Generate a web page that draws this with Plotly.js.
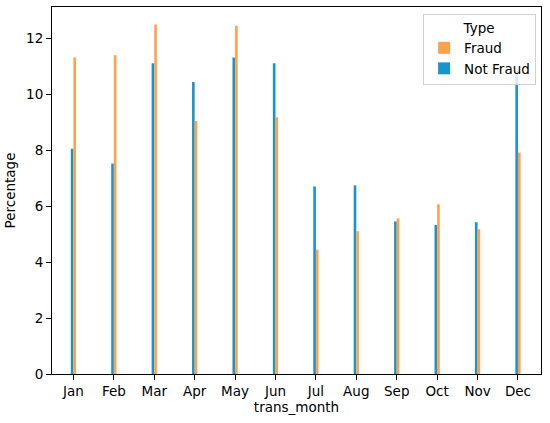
<!DOCTYPE html>
<html>
<head>
<meta charset="utf-8">
<script src="https://cdn.plot.ly/plotly-3.0.1.min.js"></script>
<style>html,body{margin:0;padding:0;background:#fff;}#chart{width:550px;height:423px;}</style>
</head>
<body>
<div id="chart"></div>
<script>
const months = ["Jan","Feb","Mar","Apr","May","Jun","Jul","Aug","Sep","Oct","Nov","Dec"];
const fraudPct = [11.32, 11.40, 12.50, 9.05, 12.46, 9.19, 4.45, 5.11, 5.57, 6.07, 5.18, 7.92];
const notFraudPct = [8.06, 7.53, 11.12, 10.45, 11.32, 11.12, 6.71, 6.75, 5.46, 5.33, 5.43, 10.83];

const font = {family: "DejaVu Sans, sans-serif", size: 13.5, color: "#000"};

const traces = [
  {type: "bar", name: "Not Fraud", x: months, y: notFraudPct,
   marker: {color: "#1a95cc", line: {width: 0}}, legendrank: 2},
  {type: "bar", name: "Fraud", x: months, y: fraudPct,
   marker: {color: "#ffa04d", line: {width: 0}}, legendrank: 1}
];

const layout = {
  width: 550, height: 423,
  margin: {l: 52, r: 9, t: 7, b: 49},
  paper_bgcolor: "#fff", plot_bgcolor: "#fff",
  font: font,
  barmode: "group", bargap: 0.87, bargroupgap: 0,
  showlegend: true,
  xaxis: {
    type: "category", range: [-0.53, 11.57],
    showline: true, linecolor: "#000", linewidth: 1, mirror: true,
    ticks: "outside", ticklen: 5, tickcolor: "#000", showgrid: false, zeroline: false,
    title: {text: "trans_month", font: font, standoff: 4},
    tickfont: font
  },
  yaxis: {
    range: [0, 13.13], tickvals: [0,2,4,6,8,10,12],
    showline: true, linecolor: "#000", linewidth: 1, mirror: true,
    ticks: "outside", ticklen: 5, tickcolor: "#000", showgrid: false, zeroline: false,
    title: {text: "Percentage", font: font, standoff: 7},
    tickfont: font
  },
  legend: {
    x: 0.99, xanchor: "right", y: 0.981, yanchor: "top",
    bgcolor: "rgba(255,255,255,0.8)", bordercolor: "#d0d0d0", borderwidth: 1,
    title: {text: "Type", side: "top center", font: font},
    font: font, traceorder: "normal", tracegroupgap: 0
  }
};

Plotly.newPlot("chart", traces, layout, {displayModeBar: false, staticPlot: true});
</script>
</body>
</html>
